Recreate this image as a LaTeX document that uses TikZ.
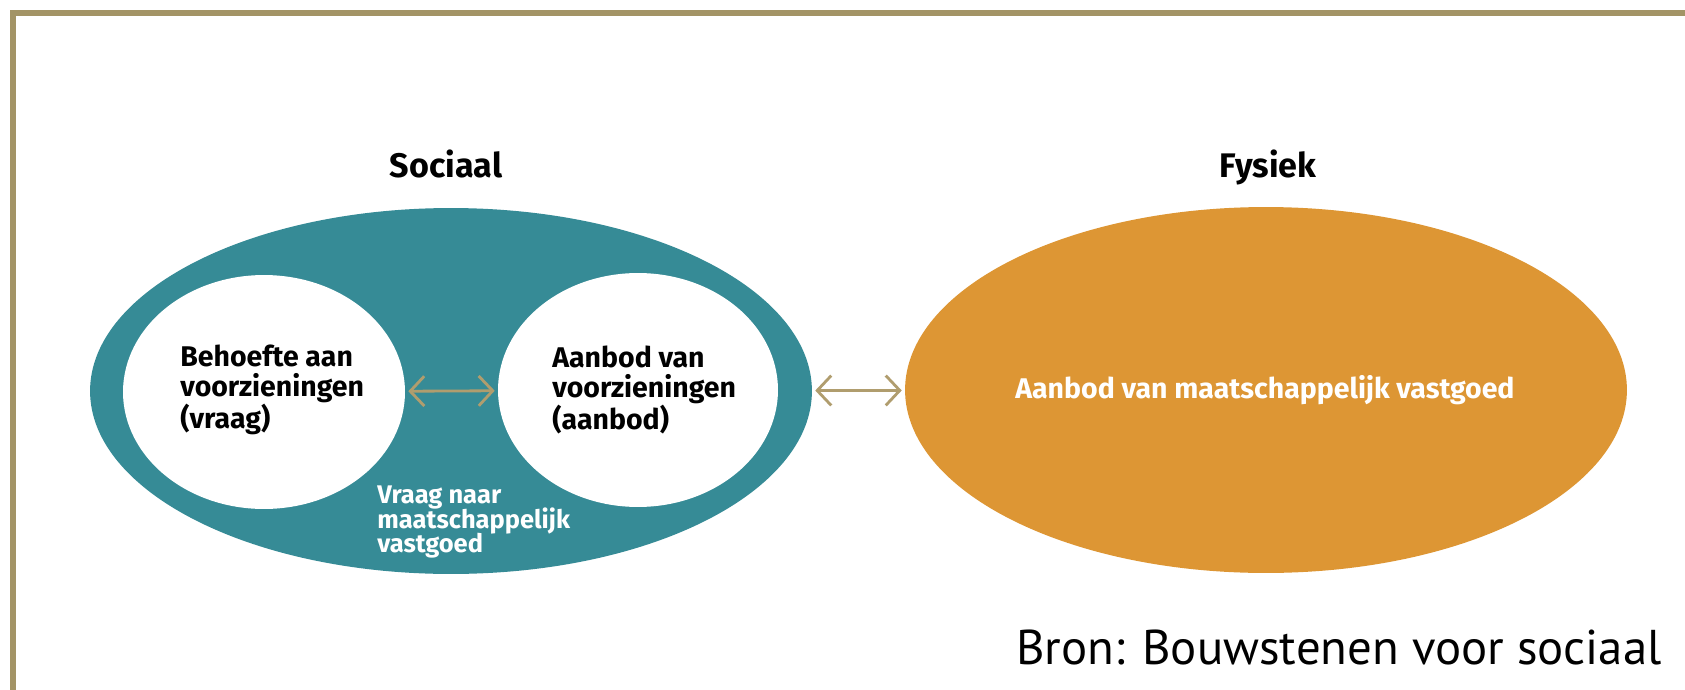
\documentclass[tikz,border=0pt]{standalone}
\usepackage{fontspec}
\setsansfont{Fira Sans}
\newfontfamily\bronfont{PT Sans}
\usepackage{xcolor}
\usetikzlibrary{arrows.meta}
\usetikzlibrary{shapes.geometric}
\usetikzlibrary{math}

\definecolor{randkleur}{HTML}{A39466}
\definecolor{sociaalkleur}{HTML}{368B96}
\definecolor{fysiekkleur}{HTML}{DD9634}
\definecolor{pijlkleur}{HTML}{B09D6E}
\newcommand{\krapregels}{\lineskiplimit=-5pt\relax}

\begin{document}
\begin{tikzpicture}[x=0.02cm,y=-0.02cm,
  ovaal/.style={ellipse, inner sep=0pt},
  kop/.style={font=\sffamily\bfseries\fontsize{19.4}{21}\selectfont, anchor=base},
  blok/.style={font=\sffamily\bfseries\fontsize{16.2}{17}\selectfont, align=left, anchor=west, inner sep=0pt},
  pijl/.style={{Straight Barb[length=8pt,width=17pt]}-{Straight Barb[length=8pt,width=17pt]}, line width=1.6pt, draw=pijlkleur, shorten <=1.7pt, shorten >=1.7pt}]
\tikzmath{
\Sx=451; \Sy=391;
\Fx=1266; \Fy=390;
}
\useasboundingbox (0,0) rectangle (1685,690);

% kader
\draw[randkleur, line width=2.9pt] (13,690) -- (13,13) -- (1685,13);

\node[ovaal, fill=sociaalkleur, minimum width=14.44cm, minimum height=7.32cm] (sociaal) at (\Sx,\Sy) {};
\node[ovaal, fill=fysiekkleur, minimum width=14.44cm, minimum height=7.32cm] (fysiek) at (\Fx,\Fy) {};
\node[ovaal, fill=white, minimum width=5.64cm, minimum height=4.68cm] (behoefte) at (264,392) {};
\node[ovaal, fill=white, minimum width=5.6cm, minimum height=4.68cm] (aanbodvz) at (638,390) {};

\node[kop] (sociaalkop) at (446,177) {Sociaal};
\node[kop] (fysiekkop) at (1268,177) {Fysiek};

\node[blok] (behoeftetxt) at (180,390) {Behoefte aan\\voorzieningen\\(vraag)};
\node[blok] (aanbodtxt) at (552,390) {Aanbod van\\voorzieningen\\(aanbod)};
\node[blok, white, font=\sffamily\bfseries\fontsize{14.5}{14.2}\selectfont\krapregels] (vraagtxt) at (377,522) {Vraag naar\\maatschappelijk\\vastgoed};
\node[blok, white, anchor=base west] (vastgoedtxt) at (1015,398) {Aanbod van maatschappelijk vastgoed};

\draw[pijl] (behoefte) -- (aanbodvz);
\draw[pijl] (sociaal) -- (fysiek);

\node[font=\bronfont\fontsize{27.8}{30}\selectfont, anchor=base west, inner sep=0pt] (bron) at (1016,664) {Bron: Bouwstenen voor sociaal};
\end{tikzpicture}
\end{document}
